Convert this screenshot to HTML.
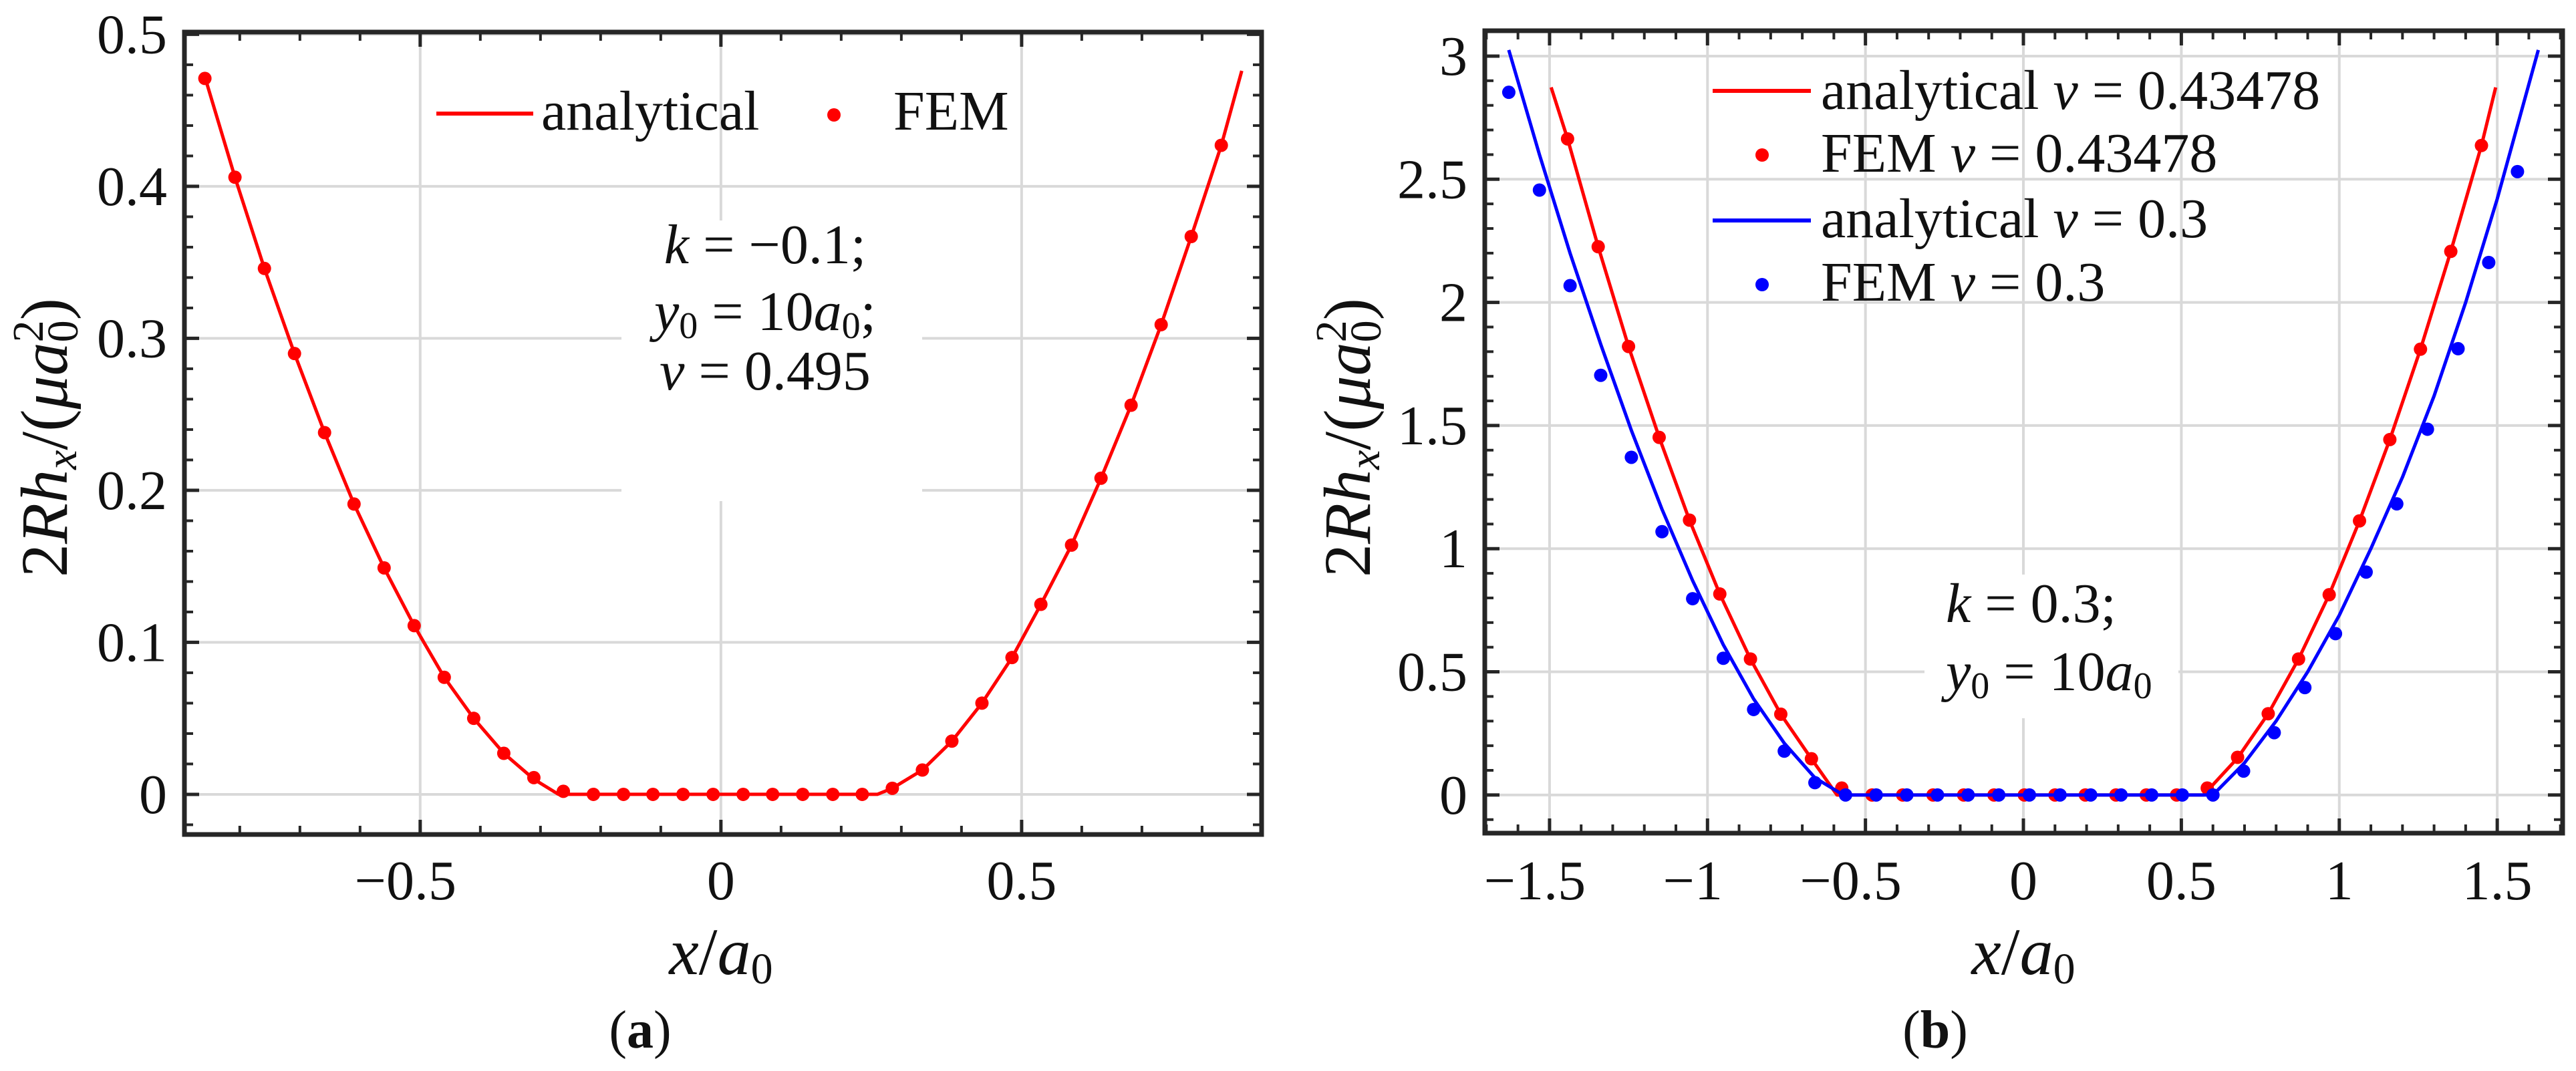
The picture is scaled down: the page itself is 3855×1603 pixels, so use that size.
<!DOCTYPE html>
<html><head><meta charset="utf-8">
<style>
html,body{margin:0;padding:0;background:#fff;}
svg{display:block;}
text{font-family:"Liberation Serif","DejaVu Serif",serif;fill:#111;}
.it{font-style:italic;}
</style></head>
<body>
<svg id="fig" width="3855" height="1603" viewBox="0 0 3855 1603" xmlns="http://www.w3.org/2000/svg">
<g id="pa"></g>
<g id="pb"></g>
</svg>
<script>
// ---------- Panel (a) data ----------
const aFemX = [-0.858,-0.808,-0.759,-0.709,-0.659,-0.610,-0.560,-0.510,-0.460,-0.411,-0.361,-0.311,-0.262,-0.212,-0.162,-0.113,-0.063,-0.013,0.037,0.086,0.136,0.186,0.235,0.285,0.335,0.384,0.434,0.484,0.532,0.583,0.632,0.682,0.732,0.782,0.832];
const aFemY = [0.471,0.406,0.346,0.290,0.238,0.191,0.149,0.111,0.077,0.050,0.027,0.011,0.002,0,0,0,0,0,0,0,0,0,0,0.004,0.016,0.035,0.060,0.090,0.125,0.164,0.208,0.256,0.309,0.367,0.427];
const aAnaX = [-0.858,-0.808,-0.759,-0.709,-0.659,-0.610,-0.560,-0.510,-0.460,-0.411,-0.361,-0.311,-0.27,0.26,0.285,0.335,0.384,0.434,0.484,0.532,0.583,0.632,0.682,0.732,0.782,0.832,0.866];
const aAnaY = [0.472,0.406,0.346,0.290,0.238,0.191,0.149,0.111,0.077,0.050,0.027,0.010,0,0,0.004,0.016,0.035,0.060,0.090,0.125,0.164,0.208,0.256,0.309,0.367,0.427,0.476];
const aXTicks = [-0.5,0,0.5];
const aXTickLabels = ["\u22120.5","0","0.5"];
const aYTicks = [0,0.1,0.2,0.3,0.4,0.5];
const aYTickLabels = ["0","0.1","0.2","0.3","0.4","0.5"];

// ---------- Panel (b) data ----------
const bRedFemX = [-1.443,-1.346,-1.250,-1.153,-1.057,-0.961,-0.864,-0.768,-0.671,-0.575,-0.479,-0.382,-0.286,-0.189,-0.093,0.003,0.100,0.196,0.293,0.389,0.485,0.582,0.678,0.775,0.871,0.968,1.064,1.160,1.257,1.353,1.450];
const bRedFemY = [2.664,2.226,1.821,1.452,1.116,0.816,0.552,0.328,0.147,0.028,0,0,0,0,0,0,0,0,0,0,0,0.028,0.153,0.330,0.552,0.813,1.113,1.443,1.810,2.207,2.637];
const bRedAnaX = [-1.495,-1.443,-1.346,-1.250,-1.153,-1.057,-0.961,-0.864,-0.768,-0.671,-0.59,0.57,0.678,0.775,0.871,0.968,1.064,1.160,1.257,1.353,1.450,1.495];
const bRedAnaY = [2.873,2.664,2.226,1.821,1.452,1.116,0.816,0.552,0.328,0.147,0,0,0.150,0.330,0.552,0.813,1.113,1.443,1.810,2.207,2.637,2.873];
const bBlueFemX = [-1.629,-1.532,-1.435,-1.338,-1.241,-1.144,-1.047,-0.950,-0.854,-0.757,-0.660,-0.563,-0.466,-0.369,-0.272,-0.175,-0.078,0.019,0.116,0.213,0.309,0.406,0.503,0.600,0.697,0.794,0.891,0.988,1.085,1.182,1.279,1.376,1.473,1.564];
const bBlueFemY = [2.853,2.456,2.068,1.704,1.371,1.069,0.797,0.555,0.347,0.178,0.050,0,0,0,0,0,0,0,0,0,0,0,0,0,0.097,0.253,0.436,0.655,0.905,1.182,1.485,1.812,2.162,2.531];
const bBlueAnaX = [-1.629,-1.532,-1.435,-1.338,-1.241,-1.144,-1.047,-0.950,-0.854,-0.757,-0.660,-0.57,0.6,0.7,0.8,0.9,1.0,1.1,1.2,1.3,1.4,1.5,1.63];
const bBlueAnaY = [3.025,2.60,2.20,1.83,1.48,1.16,0.87,0.61,0.39,0.21,0.07,0,0,0.13,0.30,0.50,0.73,1.00,1.29,1.62,2.00,2.42,3.025];
const bXTicks = [-1.5,-1,-0.5,0,0.5,1,1.5];
const bXTickLabels = ["\u22121.5","\u22121","\u22120.5","0","0.5","1","1.5"];
const bYTicks = [0,0.5,1,1.5,2,2.5,3];
const bYTickLabels = ["0","0.5","1","1.5","2","2.5","3"];

const NS = "http://www.w3.org/2000/svg";
function mk(parent, tag, attrs, text){
  const e = document.createElementNS(NS, tag);
  for (const k in attrs) e.setAttribute(k, attrs[k]);
  if (text !== undefined) e.textContent = text;
  parent.appendChild(e);
  return e;
}
function axis(L,R,T,B,x0,x1,y0,y1){
  return {L,R,T,B,
    sx: v => L + (v - x0) / (x1 - x0) * (R - L),
    sy: v => B - (v - y0) / (y1 - y0) * (B - T)};
}

function drawPanel(g, ax, o){
  const gridCol = "#d9d9d9";
  o.xt.forEach(v=>{
    const l = mk(g,'line',{x1:ax.sx(v),x2:ax.sx(v),y1:ax.T,y2:ax.B,stroke:gridCol,'stroke-width':4});
    
    
  });
  o.yt.forEach(v=>{
    const l = mk(g,'line',{x1:ax.L,x2:ax.R,y1:ax.sy(v),y2:ax.sy(v),stroke:gridCol,'stroke-width':4});
    
    
  });
  if (o.box){
    const r = mk(g,'rect',{x:o.box[0],y:o.box[1],width:o.box[2],height:o.box[3],fill:'#fff'});
    
    
  }
  const tc = "#262626";
  for (let v = o.xmin; v <= o.xmax + 1e-9; v += o.xminor){
    const isMaj = o.xt.some(t => Math.abs(t - v) < 1e-6);
    const len = isMaj ? 22 : 13;
    const x = ax.sx(v);
    const t1 = mk(g,'line',{x1:x,x2:x,y1:ax.B,y2:ax.B-len,stroke:tc,'stroke-width':isMaj?5:4});
    
    
    const t2 = mk(g,'line',{x1:x,x2:x,y1:ax.T,y2:ax.T+len,stroke:tc,'stroke-width':isMaj?5:4});
    
    
  }
  for (let v = o.ymin; v <= o.ymax + 1e-9; v += o.yminor){
    const isMaj = o.yt.some(t => Math.abs(t - v) < 1e-6);
    const len = isMaj ? 22 : 13;
    const y = ax.sy(v);
    const t1 = mk(g,'line',{x1:ax.L,x2:ax.L+len,y1:y,y2:y,stroke:tc,'stroke-width':isMaj?5:4});
    
    
    const t2 = mk(g,'line',{x1:ax.R,x2:ax.R-len,y1:y,y2:y,stroke:tc,'stroke-width':isMaj?5:4});
    
    
  }
  o.xt.forEach((v,i)=>{
    const t = mk(g,'text',{x:ax.sx(v) - (o.xl[i].startsWith('\u2212')?22:0),y:1346,'font-size':84,'text-anchor':'middle'}, o.xl[i]);
    
    
  });
  o.yt.forEach((v,i)=>{
    const t = mk(g,'text',{x:ax.L-26,y:ax.sy(v)+28,'font-size':84,'text-anchor':'end'}, o.yl[i]);
    
    
  });
  o.series.forEach(s=>{
    if (s.type === 'line'){
      const d = s.x.map((v,i)=>(i?'L':'M')+ax.sx(v).toFixed(1)+','+ax.sy(s.y[i]).toFixed(1)).join(' ');
      const p = mk(g,'path',{d:d,fill:'none',stroke:s.color,'stroke-width':5,'stroke-linejoin':'round'});
      
      
    } else {
      s.x.forEach((v,i)=>{
        const c = mk(g,'circle',{cx:ax.sx(v),cy:ax.sy(s.y[i]),r:10,fill:s.color});
        
        
      });
    }
  });
  const f = mk(g,'rect',{x:ax.L,y:ax.T,width:ax.R-ax.L,height:ax.B-ax.T,fill:'none',stroke:'#262626','stroke-width':7});
  
  
}

const ga = document.getElementById('pa');
const axA = axis(276,1888,48,1249,-0.892,0.899,-0.0264,0.5015);
drawPanel(ga, axA, {xt:aXTicks,xl:aXTickLabels,yt:aYTicks,yl:aYTickLabels,
  xmin:-0.8,xmax:0.8,xminor:0.1,ymin:-0.02,ymax:0.5,yminor:0.02,
  box:[930,330,450,420],
  series:[{type:'line',x:aAnaX,y:aAnaY,color:'#ff0000',name:'analytical-line'},
          {type:'dot',x:aFemX,y:aFemY,color:'#ff0000',name:'fem-point'}]});

const gb = document.getElementById('pb');
const axB = axis(2222,3835,46,1247,-1.705,1.707,-0.155,3.103);
drawPanel(gb, axB, {xt:bXTicks,xl:bXTickLabels,yt:bYTicks,yl:bYTickLabels,
  xmin:-1.7,xmax:1.7,xminor:0.1,ymin:-0.1,ymax:3.1,yminor:0.1,
  box:[2880,860,380,215],
  series:[{type:'line',x:bRedAnaX,y:bRedAnaY,color:'#ff0000',name:'analytical-nu-043478-line'},
          {type:'dot',x:bRedFemX,y:bRedFemY,color:'#ff0000',name:'fem-nu-043478-point'},
          {type:'line',x:bBlueAnaX,y:bBlueAnaY,color:'#0000ff',name:'analytical-nu-03-line'},
          {type:'dot',x:bBlueFemX,y:bBlueFemY,color:'#0000ff',name:'fem-nu-03-point'}]});
</script>
<div style="position:absolute;left:0;top:0;width:3855px;height:1603px;pointer-events:none;">
<svg width="3855" height="1603" viewBox="0 0 3855 1603" xmlns="http://www.w3.org/2000/svg" style="position:absolute;left:0;top:0;">
  <g>
    <line x1="653" y1="170" x2="798" y2="170" stroke="#ff0000" stroke-width="6"/>
    <text x="810" y="194" font-size="84">analytical</text>
    <circle cx="1248" cy="172" r="10" fill="#ff0000"/>
    <text x="1337" y="194" font-size="84">FEM</text>
  </g>
  <g font-size="84" text-anchor="middle">
    <text x="1145" y="394"><tspan class="it">k</tspan> = −0.1;</text>
    <text x="1145" y="494"><tspan class="it">y</tspan><tspan font-size="56" dy="12">0</tspan><tspan dy="-12"> = 10</tspan><tspan class="it">a</tspan><tspan font-size="56" dy="12">0</tspan><tspan dy="-12">;</tspan></text>
    <text x="1145" y="583"><tspan class="it">ν</tspan> = 0.495</text>
  </g>
  <text x="1079" y="1458" font-size="100" text-anchor="middle"><tspan class="it">x</tspan>/<tspan class="it">a</tspan><tspan font-size="66" dy="14">0</tspan></text>
  <text transform="translate(100,655) rotate(-90)" font-size="100" text-anchor="middle">2<tspan class="it">Rh</tspan><tspan class="it" font-size="66" dy="14">x</tspan><tspan dy="-14">/(</tspan><tspan class="it">μa</tspan><tspan font-size="66" dy="-36">2</tspan><tspan font-size="66" dx="-33" dy="52">0</tspan><tspan dy="-16">)</tspan></text>
  <text x="958" y="1568" font-size="80" text-anchor="middle">(<tspan font-weight="bold">a</tspan>)</text>

  <g font-size="84">
    <line x1="2563" y1="136" x2="2710" y2="136" stroke="#ff0000" stroke-width="6"/>
    <text x="2725" y="163">analytical <tspan class="it">ν</tspan> = 0.43478</text>
    <circle cx="2637" cy="232" r="10" fill="#ff0000"/>
    <text x="2725" y="257">FEM <tspan class="it">ν</tspan> = 0.43478</text>
    <line x1="2563" y1="330" x2="2710" y2="330" stroke="#0000ff" stroke-width="6"/>
    <text x="2725" y="355">analytical <tspan class="it">ν</tspan> = 0.3</text>
    <circle cx="2637" cy="426" r="10" fill="#0000ff"/>
    <text x="2725" y="450">FEM <tspan class="it">ν</tspan> = 0.3</text>
  </g>
  <g font-size="84">
    <text x="2912" y="931"><tspan class="it">k</tspan> = 0.3;</text>
    <text x="2912" y="1033"><tspan class="it">y</tspan><tspan font-size="56" dy="12">0</tspan><tspan dy="-12"> = 10</tspan><tspan class="it">a</tspan><tspan font-size="56" dy="12">0</tspan></text>
  </g>
  <text x="3028" y="1458" font-size="100" text-anchor="middle"><tspan class="it">x</tspan>/<tspan class="it">a</tspan><tspan font-size="66" dy="14">0</tspan></text>
  <text transform="translate(2050,655) rotate(-90)" font-size="100" text-anchor="middle">2<tspan class="it">Rh</tspan><tspan class="it" font-size="66" dy="14">x</tspan><tspan dy="-14">/(</tspan><tspan class="it">μa</tspan><tspan font-size="66" dy="-36">2</tspan><tspan font-size="66" dx="-33" dy="52">0</tspan><tspan dy="-16">)</tspan></text>
  <text x="2896" y="1568" font-size="80" text-anchor="middle">(<tspan font-weight="bold">b</tspan>)</text>
</svg>
</div>
</body></html>
